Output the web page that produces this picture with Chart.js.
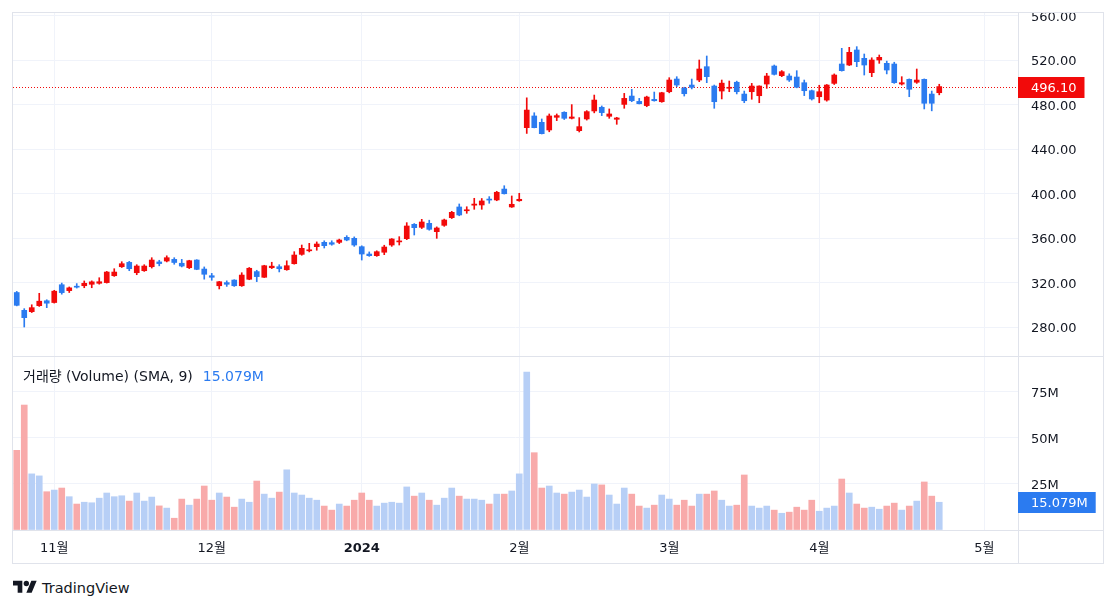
<!DOCTYPE html>
<html>
<head>
<meta charset="utf-8">
<script src="https://cdn.jsdelivr.net/npm/chart.js@4.4.1/dist/chart.umd.min.js"></script>
<style>
html,body{margin:0;padding:0;background:#fff;width:1118px;height:609px;overflow:hidden;font-family:"DejaVu Sans","Noto Sans CJK KR",sans-serif;}
#frame{position:absolute;left:12px;top:12px;width:1092px;height:552px;border:1px solid #e0e3eb;box-sizing:border-box;}
.hl{position:absolute;height:1px;background:#e0e3eb;}
.vl{position:absolute;width:1px;background:#e0e3eb;}
canvas{position:absolute;}
#legend{position:absolute;left:23px;top:368px;font-size:14px;line-height:17px;color:#131722;white-space:nowrap;}
#legend span{color:#2b7bf0;margin-left:10px;}
#brand{position:absolute;left:13px;top:578px;height:19px;display:flex;align-items:center;font-size:14.5px;color:#131722;}
#brand svg{margin-right:5px;}
</style>
</head>
<body>
<div id="frame"></div>
<div class="hl" style="left:12px;top:356px;width:1092px;"></div>
<div class="hl" style="left:1018px;top:530px;width:86px;"></div>
<div class="vl" style="left:1018px;top:12px;height:552px;"></div>
<canvas id="price" width="1090" height="343" style="left:13px;top:13px;width:1090px;height:343px;"></canvas>
<canvas id="vol" width="1090" height="206" style="left:13px;top:357px;width:1090px;height:206px;"></canvas>
<div id="legend">거래량 (Volume) (SMA, 9)<span id="legVal"></span></div>
<div id="brand"><svg width="24" height="19" viewBox="0 0 36 28"><path fill="#131722" d="M14 22H7V11H0V4h14v18zM28 22h-8l7.5-18h8L28 22z"/><circle fill="#131722" cx="20" cy="8" r="4"/></svg>TradingView</div>
<script>
// ---------- DATA ----------
const dates = [
 '2023-10-25','2023-10-26','2023-10-27','2023-10-30','2023-10-31',
 '2023-11-01','2023-11-02','2023-11-03','2023-11-06','2023-11-07','2023-11-08','2023-11-09','2023-11-10','2023-11-13','2023-11-14','2023-11-15','2023-11-16','2023-11-17','2023-11-20','2023-11-21','2023-11-22','2023-11-24','2023-11-27','2023-11-28','2023-11-29','2023-11-30',
 '2023-12-01','2023-12-04','2023-12-05','2023-12-06','2023-12-07','2023-12-08','2023-12-11','2023-12-12','2023-12-13','2023-12-14','2023-12-15','2023-12-18','2023-12-19','2023-12-20','2023-12-21','2023-12-22','2023-12-26','2023-12-27','2023-12-28','2023-12-29',
 '2024-01-02','2024-01-03','2024-01-04','2024-01-05','2024-01-08','2024-01-09','2024-01-10','2024-01-11','2024-01-12','2024-01-16','2024-01-17','2024-01-18','2024-01-19','2024-01-22','2024-01-23','2024-01-24','2024-01-25','2024-01-26','2024-01-29','2024-01-30','2024-01-31',
 '2024-02-01','2024-02-02','2024-02-05','2024-02-06','2024-02-07','2024-02-08','2024-02-09','2024-02-12','2024-02-13','2024-02-14','2024-02-15','2024-02-16','2024-02-20','2024-02-21','2024-02-22','2024-02-23','2024-02-26','2024-02-27','2024-02-28','2024-02-29',
 '2024-03-01','2024-03-04','2024-03-05','2024-03-06','2024-03-07','2024-03-08','2024-03-11','2024-03-12','2024-03-13','2024-03-14','2024-03-15','2024-03-18','2024-03-19','2024-03-20','2024-03-21','2024-03-22','2024-03-25','2024-03-26','2024-03-27','2024-03-28',
 '2024-04-01','2024-04-02','2024-04-03','2024-04-04','2024-04-05','2024-04-08','2024-04-09','2024-04-10','2024-04-11','2024-04-12','2024-04-15','2024-04-16','2024-04-17','2024-04-18','2024-04-19','2024-04-22','2024-04-23'
];
const futureDates = ['2024-04-24','2024-04-25','2024-04-26','2024-04-29','2024-04-30','2024-05-01','2024-05-02','2024-05-03','2024-05-06','2024-05-07'];

const opens = [
 311,295,293.8,299.2,303.6,302,318,312.7,316.5,317.1,
 318.4,319.3,319.9,326.1,334.2,338.1,328.8,330.6,334.2,338.5,
 339.3,340.8,337.3,333.3,340.2,332.1,326.1,317.1,319.9,322.2,
 317.1,322.9,329.8,324.7,333.3,334.2,331.5,336.9,345.3,348.5,
 352.2,356.1,355.8,356.1,360.6,359.7,352.2,345.6,344.1,347.2,
 353.7,356.5,359.4,372.3,369.6,373.2,365.7,371.4,378.3,387.9,
 384.5,389.5,389.7,394.6,394.2,404,387.9,393.5,459.2,469.7,
 464,457.1,468.5,473,467.6,456.5,467,474.2,477.5,469.4,
 466.7,480.1,487.6,482.8,479,484.6,482.5,491.5,502.9,494.8,
 497.5,502,514,496.6,492.1,494.6,500,489.4,491.5,487.9,
 498.4,514.6,505.9,505.6,504.7,499.6,492.4,487,484,499,
 516.4,515.5,529,521.5,508.6,520,517,516.4,498.4,502.6,
 500,502.6,489.4,490.6
];
const highs = [
 312,296.5,300,310.3,304.5,313,319.5,316,319,321.4,
 321.5,324.3,330,332.4,338.7,339,336,336,342.3,340,
 344,342.3,340.8,340,340.5,334,328.2,321,321.5,322.5,
 328.8,333.5,331,335.5,338.2,336,339.5,347.7,353.7,355.2,
 356.5,357.5,357.5,359,362.1,361,353,347.5,348.5,353.5,
 359.5,361.2,373.8,373,376.8,376,370,377,384,390.6,
 388.1,395.7,395.5,397.2,402,407,397.8,400.2,486,472.6,
 467,471.5,471.5,473.5,479.9,468.2,474.5,488.5,478.7,476,
 468.5,490,493.6,485.5,487.5,491.2,491,504.1,505,495.5,
 502.9,520,523.6,497.5,502,501.1,501,492.1,499,496.8,
 508,515.5,510.5,507.6,510.4,502,493,497.3,498,507.5,
 530.5,531.4,532,525.4,522,524.5,519,518,505,503,
 511.9,503,492.1,498.2
];
const lows = [
 299,280,293,298.5,297.4,301.5,309.5,311,315,315.3,
 315.3,318.5,319.5,325.5,333.5,330.6,327,330,333,335,
 338.5,336.4,334,332.5,331.5,323,322,314.2,316.5,316.5,
 316.5,322.5,320.8,324.5,332.5,329.5,331,336.5,344.5,347.5,
 349,351,353.5,355,357.5,352.5,340.2,343.5,343.5,345,
 352.5,353.7,358.5,362.7,368.5,367,359.7,370.5,377.5,380,
 382.2,385.8,385.8,391.2,393.5,399.5,387.5,393,454,459,
 453.5,455.5,465.5,466.5,467,455.3,466,472.5,470,467.6,
 462.2,476.6,482.5,480.5,478,483,482,490.5,496,487.6,
 494,500.5,499.6,476.6,485,491.5,489.5,481.6,484.7,481.6,
 494.5,506.5,505,500.7,495,488,484,481.6,483,498,
 510,515,514,506.5,505,517,507.5,499,497.5,487,
 499,476,474.3,488.7
];
const closes = [
 299.5,288.4,297.4,303.2,301.4,312.2,310.9,315.2,315.8,319.3,
 320.6,320.7,329.4,329.4,336.9,332.4,334.8,334.8,340.2,337,
 342.3,338,334.8,339.6,331.8,327.4,324.7,320.7,318.4,317.1,
 326.7,332.8,325.3,335.1,334.7,332.4,335.1,344.7,350.7,349.4,
 354.6,353.1,354.4,358.2,358.2,353.7,345.6,344.1,347.7,351.9,
 359.1,357.4,370.8,369.3,374.4,367.8,369,376.2,383.1,380.7,
 385.2,390.5,393.3,394.1,401.1,399.8,390.3,394.8,475,459.2,
 453.8,469.7,470,467.6,468.8,460.1,473.6,484,472.7,471.5,
 467.9,485.5,483.4,480.7,486.7,483.4,490.6,502,497.5,489.7,
 495.4,511.9,505,482.5,499.2,495.5,491.5,483.4,496.6,496.6,
 505.6,507.1,509.5,502,495.5,492.4,485,491.5,497.5,506.5,
 510.4,526.9,518.5,515.5,520,522.4,511,499.6,499.6,493.7,
 502,481.1,481.1,496.1
];
// volume in millions
const volumes = [
 43.3,67.9,30.5,29.4,20.8,21.7,22.8,18.1,14.1,15.1,
 14.8,17.3,20.1,18.1,18.6,15.7,20.1,15.7,17.9,13.1,
 11.9,6.4,16.8,13.5,16.8,23.9,16.2,20.1,17.9,12.4,
 16.8,15.1,26.6,19.5,17.3,20.6,32.7,20.1,19.0,17.3,
 16.2,13.0,10.8,14.1,13.0,16.2,20.1,16.2,13.0,14.6,
 15.1,14.6,23.4,18.4,20.1,16.2,13.5,17.3,22.8,18.4,
 16.8,16.8,16.2,14.1,19.5,19.5,21.2,30.5,85.8,42.0,
 22.8,23.9,20.1,19.5,20.6,21.7,17.9,25.0,24.5,19.0,
 14.1,22.8,19.5,13.0,11.9,13.5,19.0,16.8,13.5,16.2,
 13.0,19.5,19.5,21.2,16.2,13.0,13.5,29.9,13.0,11.9,
 13.0,10.8,9.1,9.7,12.4,10.8,16.2,10.2,11.9,13.0,
 27.7,20.1,14.1,11.9,12.4,11.3,13.0,14.6,10.8,13.0,
 15.7,26.1,18.4,15.079
];
const tickDates  = ['2023-11-01','2023-12-01','2024-01-02','2024-02-01','2024-03-01','2024-04-01','2024-05-01'];
const tickLabels = ['11월','12월','2024','2월','3월','4월','5월'];
const priceTicks = [280,320,360,400,440,480,520,560];
const volTicks   = [25,50,75];

// ---------- STYLE ----------
const FONT = '"DejaVu Sans","Noto Sans CJK KR",sans-serif';
const UP = '#f20a0a', DOWN = '#2b7bf0';
const UP_VOL = '#b7cff6', DOWN_VOL = '#f8aaaa';
const GRID = '#f0f3fa', BORDER = '#e0e3eb', TEXT = '#131722';

const allLabels = dates.concat(futureDates);
const monthIdx = new Set(tickDates.map(d => allLabels.indexOf(d)));
const isUp = closes.map((c, i) => c >= opens[i]);
const candleColors = isUp.map(u => u ? UP : DOWN);
const volColors = isUp.map(u => u ? UP_VOL : DOWN_VOL);
const wicks = lows.map((l, i) => [l, highs[i]]);
const bodies = opens.map((o, i) => [o, closes[i]]);
const lastClose = closes[closes.length - 1];
const lastVol = volumes[volumes.length - 1];
document.getElementById('legVal').textContent = lastVol.toFixed(3) + 'M';

Chart.defaults.font.family = FONT;
Chart.defaults.font.size = 13;
Chart.defaults.color = TEXT;

const xGridColor = c => monthIdx.has(c.index) ? GRID : 'rgba(0,0,0,0)';

function tag(ctx, x, y, text, bg) {
  ctx.save();
  ctx.font = '13px ' + FONT;
  const w = ctx.measureText(text).width + 21;
  ctx.fillStyle = bg;
  ctx.fillRect(x, Math.round(y) - 10, w, 21);
  ctx.fillStyle = '#fff';
  ctx.textBaseline = 'middle';
  ctx.textAlign = 'left';
  ctx.fillText(text, x + 13, Math.round(y) + 1.5);
  ctx.restore();
}

const pricePlugin = {
  id: 'priceLine',
  beforeDatasetsDraw(chart) {
    const { ctx, chartArea, scales: { y } } = chart;
    const py = Math.round(y.getPixelForValue(lastClose)) + 0.5;
    ctx.save();
    ctx.strokeStyle = UP; ctx.lineWidth = 1; ctx.setLineDash([1, 2]);
    ctx.beginPath(); ctx.moveTo(chartArea.left, py); ctx.lineTo(chartArea.right, py); ctx.stroke();
    ctx.restore();
  },
  afterDraw(chart) {
    const { ctx, chartArea, scales: { y } } = chart;
    tag(ctx, chartArea.right, y.getPixelForValue(lastClose), lastClose.toFixed(2), UP);
  }
};
const volPlugin = {
  id: 'volTag',
  afterDraw(chart) {
    const { ctx, chartArea, scales: { y } } = chart;
    tag(ctx, chartArea.right, y.getPixelForValue(lastVol), lastVol.toFixed(3) + 'M', DOWN);
  }
};

const base = {
  responsive: false, animation: false, devicePixelRatio: 1,
  layout: { padding: 0 },
  plugins: { legend: { display: false }, tooltip: { enabled: false } }
};

new Chart(document.getElementById('price'), {
  type: 'bar',
  data: {
    labels: allLabels,
    datasets: [
      { data: wicks, backgroundColor: candleColors, barThickness: 1, grouped: false, order: 2 },
      { data: bodies, backgroundColor: candleColors, barThickness: 5, grouped: false, minBarLength: 1, order: 1 }
    ]
  },
  options: Object.assign({}, base, {
    scales: {
      x: {
        offset: true,
        grid: { offset: false, color: xGridColor, drawTicks: false, tickLength: 0 },
        border: { display: false },
        ticks: { display: false, autoSkip: false },
        afterFit: s => { s.height = 0; s.paddingLeft = 0; s.paddingRight = 0; }
      },
      y: {
        position: 'right', min: 253.94, max: 562.25,
        afterBuildTicks: s => { s.ticks = priceTicks.map(v => ({ value: v })); },
        afterFit: s => { s.width = 85; s.paddingTop = 0; s.paddingBottom = 0; },
        grid: { color: GRID, drawTicks: false, tickLength: 0 },
        border: { display: false },
        ticks: { padding: 13, labelOffset: 2, color: TEXT, callback: v => Number(v).toFixed(2) }
      }
    }
  }),
  plugins: [pricePlugin]
});

new Chart(document.getElementById('vol'), {
  type: 'bar',
  data: {
    labels: allLabels,
    datasets: [
      { data: volumes, backgroundColor: volColors, barThickness: 6 }
    ]
  },
  options: Object.assign({}, base, {
    scales: {
      x: {
        offset: true,
        grid: { offset: false, color: xGridColor, drawTicks: false, tickLength: 0 },
        border: { display: false },
        ticks: {
          autoSkip: false, maxRotation: 0, minRotation: 0, padding: 11, color: TEXT,
          callback: (v, i) => { const k = tickDates.indexOf(allLabels[i]); return k >= 0 ? tickLabels[k] : ''; },
          font: c => ({ family: FONT, size: 13, weight: (c.tick && c.tick.label === '2024') ? 'bold' : 'normal' })
        },
        afterFit: s => { s.height = 33; s.paddingLeft = 0; s.paddingRight = 0; }
      },
      y: {
        position: 'right', min: 0, max: 94,
        afterBuildTicks: s => { s.ticks = [0].concat(volTicks).map(v => ({ value: v })); },
        afterFit: s => { s.width = 85; s.paddingTop = 0; s.paddingBottom = 0; },
        grid: { color: c => (c.tick && c.tick.value === 0) ? BORDER : GRID, drawTicks: false, tickLength: 0 },
        border: { display: false },
        ticks: { padding: 13, labelOffset: 2, color: TEXT, callback: v => v === 0 ? '' : v + 'M' }
      }
    }
  }),
  plugins: [volPlugin]
});
</script>
</body>
</html>
